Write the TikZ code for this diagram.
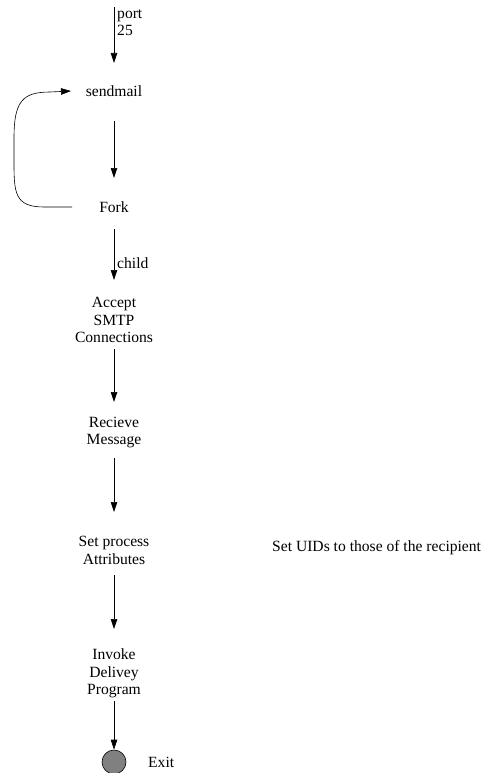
\documentclass[tikz,border=0pt]{standalone}
\usepackage{fontspec}
\setmainfont{Liberation Serif}
\usetikzlibrary{arrows.meta}
\begin{document}
\begin{tikzpicture}[x=1pt,y=-1pt,
  lbl/.style={font=\fontsize{15.6}{17.6}\selectfont,inner sep=0pt,align=center},
  arr/.style={-{Triangle[length=10pt,width=6.5pt]},line width=0.6pt}]
\useasboundingbox (0,0) rectangle (485,773);
\coordinate (top) at (114,7);
\node[lbl] (send) at (114,91) {sendmail};
\node[lbl] (fork) at (114,207) {Fork};
\node[lbl] (accept) at (114,320) {Accept\\SMTP\\Connections};
\node[lbl] (recv) at (114,432.5) {Recieve\\Message};
\node[lbl] (setp) at (114,550.5) {Set process\\Attributes};
\node[lbl] (invoke) at (114,673.5) {Invoke\\Delivey\\Program};
\node[circle,draw,fill=gray,minimum size=24pt,inner sep=0pt,line width=0.6pt] (exit) at (114,762) {};
\node[lbl,anchor=west] (exitl) at (148,762) {Exit};
\node[lbl,anchor=west,align=left] (port) at (117,22.5) {port\\25};
\node[lbl,anchor=west] (child) at (117,263) {child};
\node[lbl,anchor=west] (uid) at (272,548) {Set UIDs to those of the recipient};

\draw[arr] (top) -- ([yshift=28]send.center);
\draw[arr] ([yshift=-30]send.center) -- ([yshift=29]fork.center);
\draw[arr] ([yshift=-22]fork.center) -- ([yshift=40]accept.center);
\draw[arr] ([yshift=-29]accept.center) -- ([yshift=30.5]recv.center);
\draw[arr] ([yshift=-25.5]recv.center) -- ([yshift=38.5]setp.center);
\draw[arr] ([yshift=-24.5]setp.center) -- ([yshift=44.5]invoke.center);
\draw[arr] ([yshift=-27.5]invoke.center) -- (exit.north);
\draw[arr] ([xshift=-42]fork.center) -- (44,207) .. controls (14,207) and (14,192) .. (14,160) -- (14,138) .. controls (14,102) and (22,92) .. (50,92) -- ([xshift=-43]send.center);
\end{tikzpicture}
\end{document}
